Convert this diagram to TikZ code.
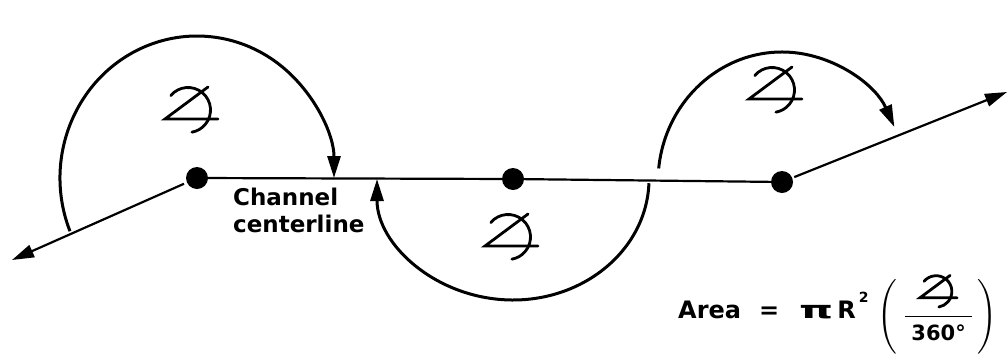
\documentclass[tikz,border=0pt]{standalone}
\usepackage{fontspec}
\setmainfont{DejaVu Sans}
\usepackage{amsmath, graphicx}
\usetikzlibrary{arrows.meta, positioning, calc}

\tikzset{
   sym/.style={line width=2.8pt, line cap=round},
   angsym/.pic={
      \draw[sym] (16,24) -- (-27,-8) -- (26,-8);
      \draw[sym] (-4,1) ++(140:22.5) arc[start angle=140, end angle=-80, radius=22.5];
   }
}

\begin{document}
\begin{tikzpicture}[
      x=1pt, y=1pt,
      dot/.style={circle, fill=black, inner sep=0pt, minimum size=22pt},
      line/.style={line width=2.2pt, black},
      arr/.style={-{Triangle[length=22pt, width=13pt]}, line width=3pt},
      lbl/.style={font=\fontsize{23}{27}\selectfont\bfseries, align=left, inner sep=0pt}
   ]
      \useasboundingbox (0,0) rectangle (1008,-354);

      % points on the channel centerline
      \node[dot] (P1) at (197,-178) {};
      \node[dot] (P2) at (513,-179) {};
      \node[dot] (P3) at (782,-182) {};
      \coordinate (In) at (12,-260);
      \coordinate (Out) at (1007,-92);

      \draw[line] (P1) -- (P2) -- (P3);
      \draw[arr, line width=2.2pt, shorten <=3pt] (P1) -- (In);
      \draw[arr, line width=2.2pt, shorten <=2pt] (P3) -- (Out);

      % deflection angles
      \draw[arr] ($(P1)+(202:137 and 142)$) arc[start angle=202, end angle=0, x radius=137, y radius=142];
      \draw[arr] ($(P2)+(-2:136 and 121)$) arc[start angle=-2, end angle=-180, x radius=136, y radius=121];
      \draw[arr] ($(P3)+(174:124 and 130)$) arc[start angle=174, end angle=25, x radius=124, y radius=130];

      \pic (A1) at (192,-111) {angsym};
      \pic (A2) at (512,-238) {angsym};
      \pic (A3) at (776,-91) {angsym};

      \node[lbl, anchor=north west] (CL) at (233,-188) {Channel\\centerline};
      \node[anchor=base west, inner sep=0pt, font=\fontsize{24}{30}\selectfont\bfseries] (F) at (678,-318)
         {Area\hspace{18pt}=\hspace{20pt}\scalebox{1.8}[1]{π}\hspace{4pt}R\hspace{3pt}\raisebox{16pt}{\fontsize{14}{14}\selectfont 2}%
          \hspace{9pt}\raisebox{-5pt}{$\Bigg(\;\dfrac{\tikz[x=1pt, y=1pt, baseline=-14pt]\pic[scale=0.7]{angsym};}%
          {\hspace{6pt}\text{\fontsize{21}{21}\selectfont 360°}\hspace{6pt}}\,\Bigg)$}};
   \end{tikzpicture}
\end{document}
